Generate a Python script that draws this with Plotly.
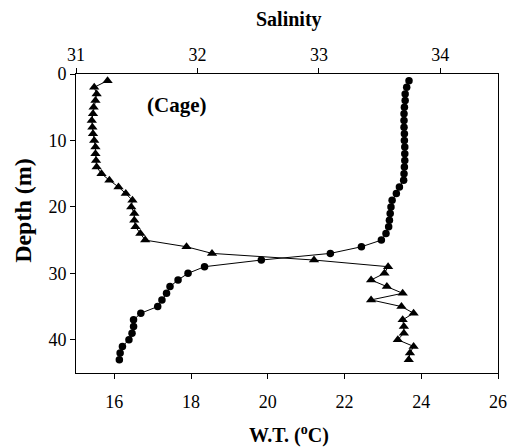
import plotly.graph_objects as go

depth = list(range(1, 44))

temperature = [23.68, 23.62, 23.58, 23.58, 23.56, 23.55, 23.55, 23.55, 23.56, 23.56,
               23.57, 23.57, 23.57, 23.56, 23.55, 23.54, 23.43, 23.35, 23.24, 23.21,
               23.19, 23.17, 23.15, 23.08, 22.96, 22.44, 21.63, 19.83, 18.35, 17.92,
               17.66, 17.45, 17.36, 17.24, 17.13, 16.69, 16.50, 16.50, 16.46, 16.38,
               16.21, 16.15, 16.13]

salinity = [31.26, 31.15, 31.17, 31.16, 31.145, 31.14, 31.13, 31.135, 31.14, 31.15,
            31.16, 31.16, 31.165, 31.17, 31.21, 31.275, 31.35, 31.41, 31.465, 31.455,
            31.48, 31.48, 31.49, 31.53, 31.57, 31.91, 32.12, 32.96, 33.57, 33.54,
            33.43, 33.56, 33.69, 33.43, 33.68, 33.78, 33.69, 33.70, 33.70, 33.65,
            33.78, 33.75, 33.74]

temp_ticks = [16, 18, 20, 22, 24, 26]
sal_ticks = [31, 32, 33, 34]
depth_ticks = [0, 10, 20, 30, 40]

FONT = "Liberation Serif"

fig = go.Figure()
fig.add_trace(go.Scatter(
    x=temperature, y=depth, mode="lines+markers", xaxis="x", yaxis="y",
    line=dict(color="black", width=1),
    marker=dict(symbol="circle", size=7.5, color="black"),
    showlegend=False))
fig.add_trace(go.Scatter(
    x=salinity, y=depth, mode="lines+markers", xaxis="x2", yaxis="y",
    line=dict(color="black", width=1),
    marker=dict(symbol="triangle-up", size=9, color="black"),
    showlegend=False))

axis_common = dict(showline=True, linecolor="black", linewidth=1, showgrid=False,
                   zeroline=False, ticks="outside", ticklen=5, tickcolor="black",
                   tickfont=dict(family=FONT, size=18, color="black"))

fig.update_layout(
    width=519, height=448,
    margin=dict(l=76, r=19, t=74, b=75),
    paper_bgcolor="white", plot_bgcolor="white",
    font=dict(family=FONT, color="black"),
    xaxis=dict(range=[15, 26], tickvals=temp_ticks, ticklabelstandoff=7, **axis_common),
    xaxis2=dict(range=[31, 34.475], tickvals=sal_ticks, overlaying="x", side="top",
                anchor="y", **axis_common),
    yaxis=dict(range=[45, 0], tickvals=depth_ticks, mirror=True, **axis_common),
    annotations=[
        dict(text="<b>(Cage)</b>", x=17.62, y=4.7, xref="x", yref="y",
             showarrow=False, font=dict(family=FONT, size=21, color="black")),
        dict(text="<b>Salinity</b>", x=0.505, y=1.181, xref="paper", yref="paper",
             xanchor="center", yanchor="middle", showarrow=False,
             font=dict(family=FONT, size=20, color="black")),
        dict(text="<b>W.T. (<sup>o</sup>C)</b>", x=0.505, y=-0.205, xref="paper", yref="paper",
             xanchor="center", yanchor="middle", showarrow=False,
             font=dict(family=FONT, size=20, color="black")),
        dict(text="<b>Depth (m)</b>", x=-0.126, y=0.545, xref="paper", yref="paper",
             xanchor="center", yanchor="middle", showarrow=False, textangle=-90,
             font=dict(family=FONT, size=24, color="black")),
    ],
)

fig.write_html("out.html", post_script="document.body.style.margin='0';",
               config={"displayModeBar": False})
